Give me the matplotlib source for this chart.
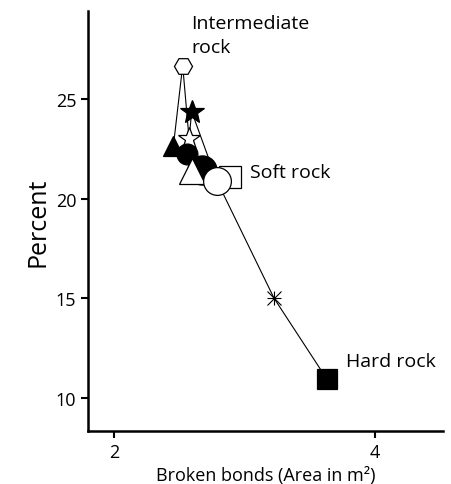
import matplotlib.pyplot as plt

# Points (broken bonds area, percent) and their marker styles
names = ['tri_black', 'hexagon', 'star_white', 'star_black', 'circle_black_s',
         'circle_black_l', 'tri_white', 'square_white', 'circle_white',
         'asterisk', 'square_black']
area = [2.455, 2.526, 2.575, 2.595, 2.557, 2.672, 2.595, 2.889, 2.787, 3.226, 3.63]
percent = [22.65, 26.67, 22.99, 24.36, 22.24, 21.45, 21.40, 21.07, 20.90, 15.0, 10.95]
markers = ['^', 'H', '*', '*', 'o', 'o', '^', 's', 'o', '*', 's']
filled = [True, False, False, True, True, True, False, False, False, False, True]
sizes = [15, 13, 17, 18, 15, 21, 19, 16, 20, 10, 15]

# Connecting line order
line_order = ['tri_black', 'hexagon', 'star_white', 'star_black', 'circle_white',
              'asterisk', 'square_black']

plt.rcParams['font.family'] = ['Open Sans', 'DejaVu Sans']

fig = plt.figure(figsize=(4.51, 4.85), dpi=100)
ax = fig.add_axes([0.195, 0.109, 0.787, 0.866])

idx = [names.index(n) for n in line_order]
ax.plot([area[i] for i in idx], [percent[i] for i in idx], color='black', lw=0.8, zorder=1)

for i, n in enumerate(names):
    face = 'black' if filled[i] else 'white'
    if n == 'asterisk':
        for m in ['+', 'x']:
            ax.plot(area[i], percent[i], marker=m, ms=sizes[i], color='black',
                    mew=0.8, ls='none', zorder=3)
        continue
    ax.plot(area[i], percent[i], marker=markers[i], ms=sizes[i], mfc=face,
            mec='black', mew=0.9, ls='none', zorder=2 + i * 0.1)

ax.text(2.59, 29.25, 'Intermediate\nrock', fontsize=14, va='top', ha='left', linespacing=1.45)
ax.text(3.04, 21.35, 'Soft rock', fontsize=14, va='center', ha='left')
ax.text(3.78, 11.85, 'Hard rock', fontsize=14, va='center', ha='left')

ax.set_xlim(1.80, 4.52)
ax.set_ylim(8.33, 29.4)
ax.set_xticks([2, 4])
ax.set_yticks([10, 15, 20, 25])
ax.tick_params(labelsize=13, width=1.5, length=5)
ax.set_xlabel('Broken bonds (Area in m²)', fontsize=13)
ax.set_ylabel('Percent', fontsize=18)
for s in ['top', 'right']:
    ax.spines[s].set_visible(False)
for s in ['left', 'bottom']:
    ax.spines[s].set_linewidth(1.8)

fig.savefig('out.png', dpi=100)
